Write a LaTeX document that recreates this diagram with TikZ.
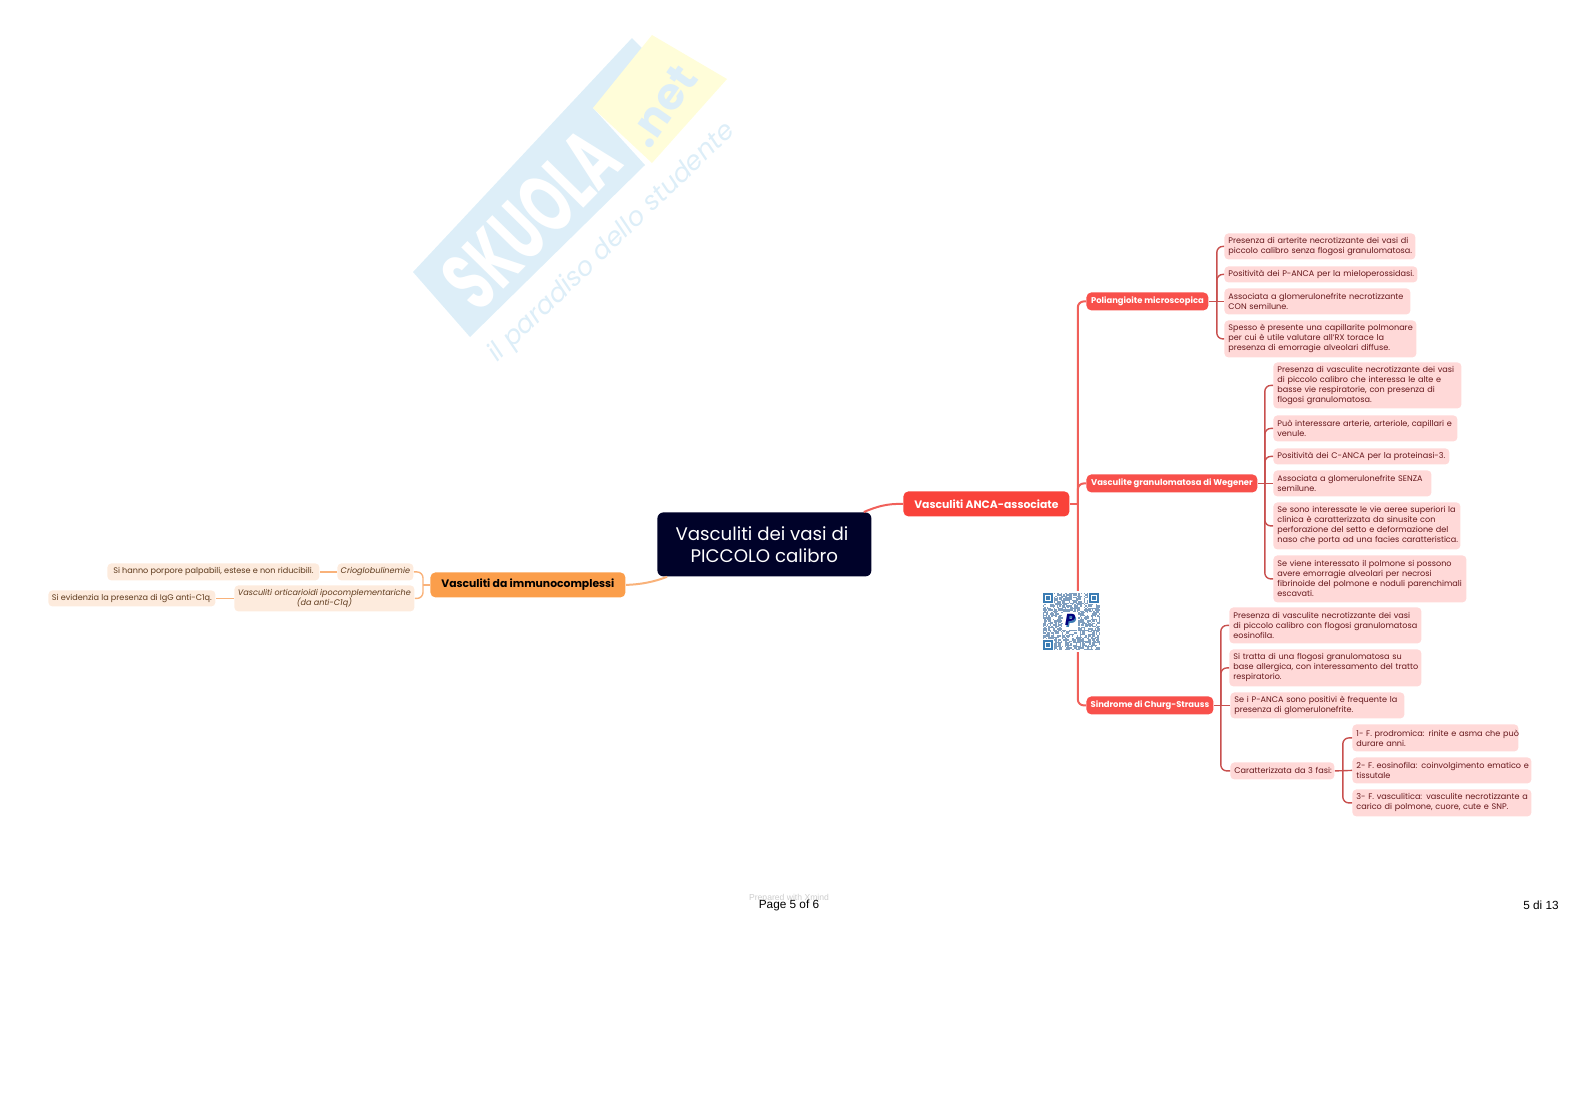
\documentclass[tikz,border=0pt]{standalone}
\usepackage{fontspec}
\setmainfont{Poppins}
\newfontfamily\pagefont{Liberation Sans}
\usepackage{xcolor}
\definecolor{ink}{HTML}{000229}
\definecolor{red1}{HTML}{F9423A}
\definecolor{red2}{HTML}{F8504B}
\definecolor{redline}{HTML}{F0605A}
\definecolor{redline2}{HTML}{C8504E}
\definecolor{pink1}{HTML}{FFD9D8}
\definecolor{redtext}{HTML}{66181C}
\definecolor{orange1}{HTML}{FB9E4B}
\definecolor{orange2}{HTML}{FDEBDD}
\definecolor{orangeline}{HTML}{F9B27A}
\definecolor{browntext}{HTML}{5E3A1C}
\definecolor{markblue}{HTML}{DDEEF8}
\definecolor{markyellow}{HTML}{FFFDD9}
\definecolor{qrblue}{HTML}{3C7DB4}
\definecolor{qrgrey}{HTML}{7E9DBE}
\usetikzlibrary{positioning,arrows.meta,calc}

\begin{document}
\begin{tikzpicture}[x=0.5pt,y=-0.5pt,
    central/.style={anchor=north west, fill=ink, text=white, rounded corners=3pt, align=center, font=\fontsize{9.1}{11.2}\selectfont, inner sep=0pt},
    mainred/.style={anchor=north west, fill=red1, text=white, rounded corners=2.5pt, inner sep=0pt, font=\fontsize{5.4}{6}\selectfont\bfseries},
    mainorange/.style={anchor=north west, fill=orange1, text=black, rounded corners=2.5pt, inner sep=0pt, font=\fontsize{5.4}{6}\selectfont\bfseries},
    subred/.style={anchor=north west, fill=red2, text=white, rounded corners=2.5pt, inner sep=0pt, font=\fontsize{4.2}{5}\selectfont\bfseries},
    leaf/.style={anchor=north west, fill=pink1, text=redtext, rounded corners=2pt, inner ysep=0pt, inner xsep=2pt, execute at begin node={\rightskip=0pt minus 20pt\hyphenpenalty=10000\relax}, font=\fontsize{4.05}{5}\selectfont},
    leaforange/.style={anchor=north west, fill=orange2, text=browntext, rounded corners=2pt, inner sep=0pt, align=center, font=\fontsize{4.05}{5}\selectfont},
    trunk/.style={draw=redline, line width=1pt, rounded corners=3pt},
    twig/.style={draw=redline2, line width=.7pt, rounded corners=3pt},
    twigorange/.style={draw=orangeline, line width=.7pt, rounded corners=3pt},
    pagelabel/.style={font=\pagefont\fontsize{5.9}{7}\selectfont, text=black, inner sep=0pt}]
  \useasboundingbox (0,0) rectangle (1579,1116);
  % watermark
  \fill[markblue] (413,272) -- (632,38) -- (648,54) -- (593,108) -- (645,165) -- (470,337) -- cycle;
  \fill[markyellow] (652,35) -- (727,79) -- (652,163) -- (593,108) -- cycle;
  \node[rotate=45.5, xscale=.62, transform shape, text=white, font=\fontsize{42}{42}\selectfont\bfseries, inner sep=0pt] (skuola) at (531,219) {SKUOLA};
  \node[rotate=55, transform shape, text=markblue, font=\fontsize{22}{22}\selectfont\bfseries, inner sep=0pt] (dotnet) at (662,106) {.net};
  \node[rotate=44, transform shape, text=markblue, font=\fontsize{13}{14}\selectfont\itshape, inner sep=0pt] (motto) at (612,243) {il paradiso dello studente};
  % centre
  \node[central, minimum width=107pt, minimum height=32pt] (cen) at (657,512) {Vasculiti dei vasi di\ \ \\PICCOLO calibro};
  \node[mainred, minimum width=83pt, minimum height=12.5pt] (anca) at (903,491) {Vasculiti ANCA-associate};
  \node[mainorange, minimum width=97.5pt, minimum height=12.5pt] (imm) at (430,572) {Vasculiti da immunocomplessi};
  \draw[draw=redline, line width=1pt] ([xshift=-4pt]cen.north east) .. controls (878,506) and (888,503.5) .. (anca.west);
  \draw[draw=orangeline, line width=1pt] (imm.east) .. controls (640,584.5) and (654,582) .. ([xshift=5pt]cen.south west);
  % Poliangioite
  \node[subred, minimum width=61pt, minimum height=9pt] (poli) at (1086,292) {Poliangioite microscopica};
  \node[leaf, text width=91.5pt, minimum height=13pt] (p1) at (1224,233) {Presenza di arterite necrotizzante dei vasi di\\piccolo calibro senza flogosi granulomatosa.};
  \node[leaf, text width=92.5pt, minimum height=8pt] (p2) at (1224,266) {Positività dei P-ANCA per la mieloperossidasi.};
  \node[leaf, text width=89pt, minimum height=13pt] (p3) at (1224,288) {Associata a glomerulonefrite necrotizzante\\CON semilune.};
  \node[leaf, text width=92pt, minimum height=18.5pt] (p4) at (1224,320) {Spesso è presente una capillarite polmonare\\per cui è utile valutare all’RX torace la\\presenza di emorragie alveolari diffuse.};
  % Wegener
  \node[subred, minimum width=85.5pt, minimum height=9pt] (weg) at (1086,474) {Vasculite granulomatosa di Wegener};
  \node[leaf, text width=90pt, minimum height=23pt] (w1) at (1273,362) {Presenza di vasculite necrotizzante dei vasi\\di piccolo calibro che interessa le alte e\\basse vie respiratorie, con presenza di\\flogosi granulomatosa.};
  \node[leaf, text width=88pt, minimum height=13pt] (w2) at (1273,415) {Può interessare arterie, arteriole, capillari e\\venule.};
  \node[leaf, text width=84pt, minimum height=8pt] (w3) at (1273,448) {Positività dei C-ANCA per la proteinasi-3.};
  \node[leaf, text width=75pt, minimum height=13pt] (w4) at (1273,470) {Associata a glomerulonefrite SENZA\\semilune.};
  \node[leaf, text width=89.5pt, minimum height=23.5pt] (w5) at (1273,502) {Se sono interessate le vie aeree superiori la\\clinica è caratterizzata da sinusite con\\perforazione del setto e deformazione del\\naso che porta ad una facies caratteristica.};
  \node[leaf, text width=92.5pt, minimum height=23.5pt] (w6) at (1273,555) {Se viene interessato il polmone si possono\\avere emorragie alveolari per necrosi\\fibrinoide del polmone e noduli parenchimali\\escavati.};
  % Churg-Strauss
  \node[subred, minimum width=63.5pt, minimum height=9pt] (churg) at (1086,696) {Sindrome di Churg-Strauss};
  \node[leaf, text width=92pt, minimum height=18pt] (c1) at (1229,607) {Presenza di vasculite necrotizzante dei vasi\\di piccolo calibro con flogosi granulomatosa\\eosinofila.};
  \node[leaf, text width=92pt, minimum height=18.5pt] (c2) at (1229,649) {Si tratta di una flogosi granulomatosa su\\base allergica, con interessamento del tratto\\respiratorio.};
  \node[leaf, text width=83pt, minimum height=13pt] (c3) at (1230,692) {Se i P-ANCA sono positivi è frequente la\\presenza di glomerulonefrite.};
  \node[leaf, text width=48pt, minimum height=8.5pt] (c4) at (1230,762) {Caratterizzata da 3 fasi:};
  \node[leaf, text width=79pt, minimum height=13.5pt] (f1) at (1352,724) {1- F. prodromica: rinite e asma che può\\durare anni.};
  \node[leaf, text width=85.5pt, minimum height=13pt] (f2) at (1352,757) {2- F. eosinofila: coinvolgimento ematico e\\tissutale};
  \node[leaf, text width=85.5pt, minimum height=13.5pt] (f3) at (1352,789) {3- F. vasculitica: vasculite necrotizzante a\\carico di polmone, cuore, cute e SNP.};
  % immunocomplessi
  \node[leaforange, minimum width=38pt, minimum height=8.5pt, font=\fontsize{4.05}{5}\selectfont\itshape] (crio) at (337,563) {Crioglobulinemie};
  \node[leaforange, minimum width=106pt, minimum height=8.5pt] (crio2) at (107,563) {Si hanno porpore palpabili, estese e non riducibili.};
  \node[leaforange, minimum width=90pt, minimum height=13pt, font=\fontsize{4.05}{5}\selectfont\itshape] (urti) at (234,585) {Vasculiti orticarioidi ipocomplementariche\\(da anti-C1q)};
  \node[leaforange, minimum width=83.5pt, minimum height=8pt] (urti2) at (48,590) {Si evidenzia la presenza di IgG anti-C1q.};
  % branches
  \draw[trunk] (anca.east) -- ++(8,0);
  \foreach \kid in {poli,weg,churg}
    \draw[trunk] (anca.east) ++(8,0) |- (\kid.west);
  \draw[twig] (poli.east) -- (p3.west);
  \foreach \kid in {p1,p2,p4}
    \draw[twig] (poli.east) ++(8,0) |- (\kid.west);
  \draw[twig] (weg.east) -- (w4.west);
  \foreach \kid in {w1,w2,w3,w5,w6}
    \draw[twig] (weg.east) ++(7,0) |- (\kid.west);
  \draw[twig] (churg.east) -- (c3.west);
  \foreach \kid in {c1,c2,c4}
    \draw[twig] (churg.east) ++(7,0) |- (\kid.west);
  \draw[twig] (c4.east) -- (f2.west);
  \foreach \kid in {f1,f3}
    \draw[twig] (c4.east) ++(8,0) |- (\kid.west);
  \draw[twigorange] (imm.west) -- ++(-7,0);
  \foreach \kid in {crio,urti}
    \draw[twigorange] (imm.west) ++(-7,0) |- (\kid.east);
  \draw[twigorange] (crio.west) -- (crio2.east);
  \draw[twigorange] (urti.west) -- (urti2.east);
  % QR
  \fill[white] (1041,591) rectangle (1101,652);
  \pgfmathsetseed{5}
  \foreach \i in {0,...,41}
    \foreach \j in {0,...,41} {
      \pgfmathrandominteger{\cell}{0}{9}
      \ifnum\cell<6
        \fill[qrgrey] ({1043+\i*1.36},{593+\j*1.36}) rectangle ++(1.36,1.36);
      \fi
    }
  \foreach \qx/\qy in {1043/593,1089/593,1043/640} {
    \fill[white] (\qx-1,\qy-1) rectangle ++(12,12);
    \fill[qrblue] (\qx,\qy) rectangle ++(10,10);
    \fill[white] (\qx+1.7,\qy+1.7) rectangle ++(6.6,6.6);
    \fill[qrblue] (\qx+3.2,\qy+3.2) rectangle ++(3.6,3.6);
  }
  \fill[white] (1063,612) rectangle (1078,630);
  \node[inner sep=0pt, text=qrblue, font=\fontsize{8}{8}\selectfont\bfseries\itshape] (qrp2) at (1071,622) {P};
  \node[inner sep=0pt, text=ink!60!blue, font=\fontsize{8}{8}\selectfont\bfseries\itshape] (qrp) at (1070,620) {P};
  % footer
  \node[text=gray!40, inner sep=0pt, font=\pagefont\fontsize{4.3}{5}\selectfont] (made) at (789,898) {Prepared with Xmind};
  \node[pagelabel] (pagenum) at (789,905) {Page 5 of 6};
  \node[pagelabel] (docnum) at (1541,905) {5 di 13};
\end{tikzpicture}
\end{document}
